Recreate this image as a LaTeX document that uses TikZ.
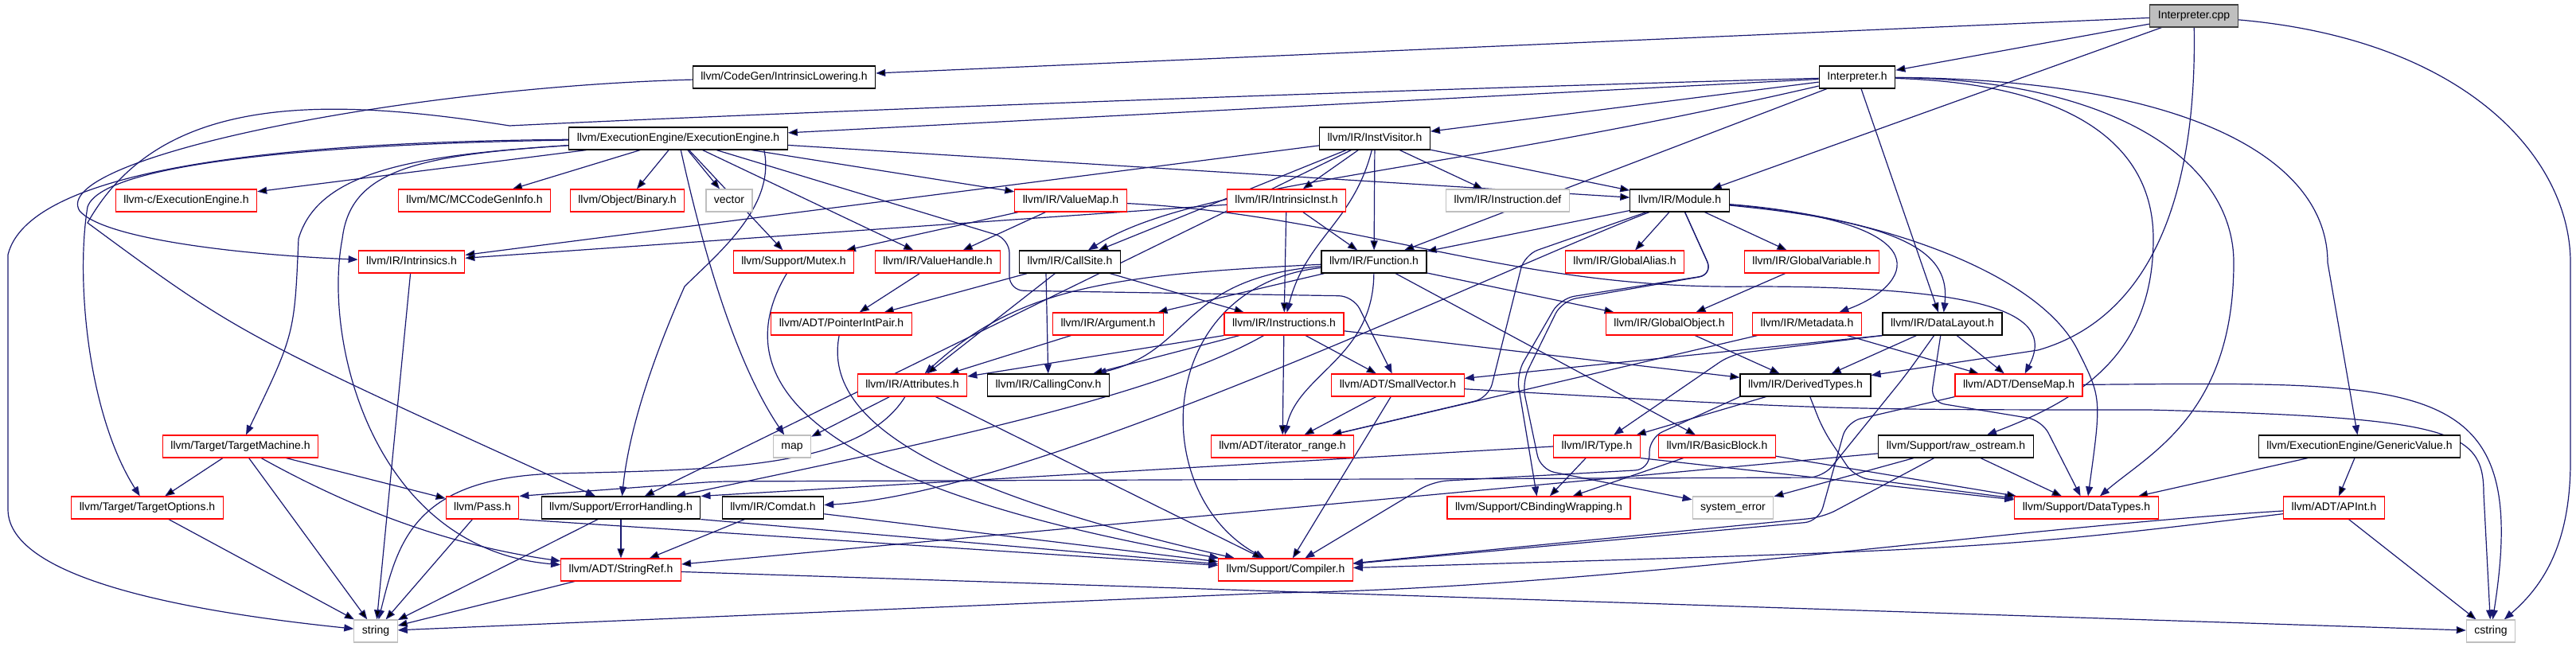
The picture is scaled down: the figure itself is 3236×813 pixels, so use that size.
\documentclass[tikz,border=0pt]{standalone}
\usepackage{fontspec}
\setmainfont{Liberation Sans}
\usepackage{tikz}
\usetikzlibrary{arrows.meta}

\definecolor{edgeblue}{RGB}{25,25,112}
\definecolor{partred}{RGB}{255,0,0}
\definecolor{sysgray}{RGB}{191,191,191}

\pgfdeclarelayer{background}
\pgfsetlayers{background,main}

\tikzset{
    hdr/.style={draw=black, fill=white, line width=1.2pt, minimum height=28pt,
        inner xsep=10pt, inner ysep=0pt, text height=10.5pt, text depth=3pt,
        font=\fontsize{14}{16}\selectfont},
    trunc/.style={hdr, draw=partred},
    sys/.style={hdr, draw=sysgray},
    root/.style={hdr, draw=black!75, fill=sysgray},
    dep/.style={draw=edgeblue, line width=1.2pt, -{Triangle[length=12pt,width=9pt]}},
    routed/.style={dep, rounded corners=18pt},
}

\begin{document}
\begin{tikzpicture}[x=1pt,y=-1pt]
    \useasboundingbox (0,0) rectangle (3236,813);

    % Source file
    \node[root] (cpp) at (2756,20) {Interpreter.cpp};

    % First two levels
    \node[hdr] (il) at (985,97) {llvm/CodeGen/IntrinsicLowering.h};
    \node[hdr] (ih) at (2333,97) {Interpreter.h};
    \node[hdr] (ee) at (852,174) {llvm/ExecutionEngine/ExecutionEngine.h};
    \node[hdr] (iv) at (1727,174) {llvm/IR/InstVisitor.h};

    % Row 3
    \node[trunc] (cee) at (234,252) {llvm-c/ExecutionEngine.h};
    \node[trunc] (mcg) at (596,252) {llvm/MC/MCCodeGenInfo.h};
    \node[trunc] (bin) at (788,252) {llvm/Object/Binary.h};
    \node[sys] (vec) at (916,252) {vector};
    \node[trunc] (vmap) at (1345,252) {llvm/IR/ValueMap.h};
    \node[trunc] (iinst) at (1616,252) {llvm/IR/IntrinsicInst.h};
    \node[sys] (idef) at (1894,252) {llvm/IR/Instruction.def};
    \node[hdr] (mod) at (2110,252) {llvm/IR/Module.h};

    % Row 4
    \node[trunc] (intr) at (517,329) {llvm/IR/Intrinsics.h};
    \node[trunc] (mtx) at (997,329) {llvm/Support/Mutex.h};
    \node[trunc] (vh) at (1178,329) {llvm/IR/ValueHandle.h};
    \node[hdr] (cs) at (1344,329) {llvm/IR/CallSite.h};
    \node[hdr] (fn) at (1726,329) {llvm/IR/Function.h};
    \node[trunc] (ga) at (2041,329) {llvm/IR/GlobalAlias.h};
    \node[trunc] (gv) at (2276,329) {llvm/IR/GlobalVariable.h};

    % Row 5
    \node[trunc] (pip) at (1057,407) {llvm/ADT/PointerIntPair.h};
    \node[trunc] (arg) at (1392,407) {llvm/IR/Argument.h};
    \node[trunc] (insts) at (1613,407) {llvm/IR/Instructions.h};
    \node[trunc] (go) at (2097,407) {llvm/IR/GlobalObject.h};
    \node[trunc] (md) at (2270,407) {llvm/IR/Metadata.h};
    \node[hdr] (dl) at (2440,407) {llvm/IR/DataLayout.h};

    % Row 6
    \node[trunc] (attr) at (1146,484) {llvm/IR/Attributes.h};
    \node[hdr] (cc) at (1317,484) {llvm/IR/CallingConv.h};
    \node[trunc] (sv) at (1756,484) {llvm/ADT/SmallVector.h};
    \node[hdr] (dt) at (2268,484) {llvm/IR/DerivedTypes.h};
    \node[trunc] (dm) at (2536,484) {llvm/ADT/DenseMap.h};

    % Row 7
    \node[trunc] (tm) at (302,561) {llvm/Target/TargetMachine.h};
    \node[sys] (map) at (995,561) {map};
    \node[trunc] (itr) at (1611,561) {llvm/ADT/iterator\_range.h};
    \node[trunc] (ty) at (2006,561) {llvm/IR/Type.h};
    \node[trunc] (bb) at (2157,561) {llvm/IR/BasicBlock.h};
    \node[hdr] (ros) at (2457,561) {llvm/Support/raw\_ostream.h};
    \node[hdr] (gval) at (2964,561) {llvm/ExecutionEngine/GenericValue.h};

    % Row 8
    \node[trunc] (topt) at (185,638) {llvm/Target/TargetOptions.h};
    \node[trunc] (pass) at (606,638) {llvm/Pass.h};
    \node[hdr] (eh) at (780,638) {llvm/Support/ErrorHandling.h};
    \node[hdr] (cmd) at (971,638) {llvm/IR/Comdat.h};
    \node[trunc] (cbw) at (1933,638) {llvm/Support/CBindingWrapping.h};
    \node[sys] (syse) at (2177,638) {system\_error};
    \node[trunc] (dtyp) at (2621,638) {llvm/Support/DataTypes.h};
    \node[trunc] (apint) at (2932,638) {llvm/ADT/APInt.h};

    % Bottom rows
    \node[trunc] (sref) at (780,716) {llvm/ADT/StringRef.h};
    \node[trunc] (comp) at (1615,716) {llvm/Support/Compiler.h};
    \node[sys] (str) at (472,793) {string};
    \node[sys] (cstr) at (3129,793) {cstring};

    \begin{pgfonlayer}{background}
    % Interpreter.cpp
    \draw[dep] (cpp) edge (ih) edge (il) edge (mod);
    \draw[dep] (cpp) .. controls (2760,250) and (2700,400) .. (2560,440) -- (dt);
    \draw[dep] (cpp) .. controls (3100,50) and (3229,200) .. (3229,330) -- (3229,580) .. controls (3229,690) and (3190,740) .. (cstr);

    % IntrinsicLowering.h
    \draw[dep] (il) .. controls (500,110) and (60,200) .. (100,265) .. controls (130,300) and (300,320) .. (intr);

    % Interpreter.h
    \draw[dep] (ih) edge (ee) edge (iv) edge (fn) edge (dl);
    \draw[dep] (ih) .. controls (1800,220) and (1500,230) .. (cs);
    \draw[dep] (ih) .. controls (2600,105) and (2705,180) .. (2705,300) .. controls (2705,440) and (2620,500) .. (ros);
    \draw[dep] (ih) .. controls (2650,100) and (2806,200) .. (2806,330) .. controls (2806,520) and (2700,570) .. (dtyp);
    \draw[dep] (ih) .. controls (2750,100) and (2924,200) .. (2924,330) -- (gval);
    \draw[dep] (ih) .. controls (1500,120) and (800,150) .. (640,158) .. controls (400,120) and (200,120) .. (110,280) .. controls (300,420) .. (eh);

    % ExecutionEngine.h
    \draw[dep] (ee) edge (cee) edge (mcg) edge (bin) edge (vec) edge (vmap) edge (mtx) edge (vh) edge (mod);
    \draw[routed] (ee) -- (1268,300) -- (1268,365) -- (1700,372) -- (sv);
    \draw[dep] (ee) .. controls (880,300) and (920,450) .. (map);
    \draw[dep] ([xshift=-30pt]ee.south east) .. controls (975,260) and (900,320) .. (860,360) .. controls (820,450) and (790,540) .. (eh);
    \draw[dep] (ee) .. controls (520,195) and (400,215) .. (375,300) .. controls (370,420) .. (tm);
    \draw[dep] (ee) .. controls (520,195) and (440,215) .. (430,300) .. controls (405,430) and (470,690) .. (sref);
    \draw[dep] (ee) .. controls (450,180) and (130,200) .. (110,260) .. controls (95,350) and (110,520) .. (topt);
    \draw[dep] (ee) .. controls (420,178) and (40,200) .. (10,320) -- (10,640) .. controls (10,730) and (250,770) .. (str);

    % InstVisitor.h
    \draw[dep] (iv) edge (iinst) edge (idef) edge (mod) edge (fn) edge (cs) edge (intr) edge (eh);
    \draw[dep] (iv) .. controls (1700,280) and (1640,300) .. (insts);

    % IntrinsicInst.h and ValueMap.h
    \draw[dep] (iinst) edge (intr) edge (fn) edge (insts);
    \draw[dep] (vmap) edge (vh) edge (mtx);
    \draw[dep] (vmap) .. controls (1700,270) and (1900,365) .. (2200,360) .. controls (2520,360) and (2580,400) .. (dm);

    % Module.h
    \draw[dep] (mod) edge (fn) edge (ga) edge (gv);
    \draw[routed] (mod) -- (1915,320) -- (1870,500) -- (itr);
    \draw[dep] (mod) .. controls (1880,340) and (1300,620) .. (cmd);
    \draw[dep] (mod) .. controls (2400,280) and (2450,320) .. (dl);
    \draw[dep] (mod) .. controls (2450,280) and (2400,360) .. (md);
    \draw[routed] (mod) -- (2152,345) -- (1960,375) -- (1905,470) -- (cbw);
    \draw[routed] (mod) -- (2152,345) -- (1962,378) -- (1912,480) -- (1935,590) -- (syse);
    \draw[dep] (mod) .. controls (2350,270) and (2560,340) .. (2610,440) .. controls (2640,500) .. (dtyp);

    % Function.h
    \draw[dep] (fn) edge (arg) edge (go) edge (bb);
    \draw[dep] (fn) .. controls (1725,450) and (1630,470) .. (itr);
    \draw[dep] (fn) .. controls (1400,345) and (1280,360) .. (attr);
    \draw[dep] (fn) .. controls (1480,350) and (1500,440) .. (cc);
    \draw[dep] (fn) .. controls (1450,360) and (1440,620) .. (comp);

    % Globals and metadata
    \draw[dep] (gv) edge (go);
    \draw[dep] (go) edge (dt);
    \draw[dep] (md) edge (dm) edge (itr);

    % CallSite.h, ValueHandle.h, Argument.h
    \draw[dep] (cs) edge (pip) edge (attr) edge (insts);
    \draw[dep] ([xshift=-30pt]cs.south) -- (cc);
    \draw[dep] (vh) edge (pip);
    \draw[dep] (arg) edge (attr);

    % Instructions.h
    \draw[dep] (insts) edge (itr) edge (sv) edge (cc) edge (dt);
    \draw[dep] (insts.south west) -- (attr);
    \draw[dep] (insts) .. controls (1450,500) and (1150,560) .. (eh);

    % PointerIntPair.h, Mutex.h, Attributes.h
    \draw[dep] (pip) .. controls (1035,520) and (1150,610) .. (comp);
    \draw[dep] (mtx) .. controls (925,450) and (950,600) .. (comp);
    \draw[dep] (attr) edge (map) edge (comp);
    \draw[dep] (attr) .. controls (1080,590) and (900,590) .. (700,595) .. controls (520,600) and (500,680) .. (str);

    % SmallVector.h, DerivedTypes.h, DenseMap.h
    \draw[dep] (sv) edge (itr) edge (comp);
    \draw[dep] (sv) .. controls (2300,515) .. (2700,515) .. controls (3080,525) and (3120,540) .. (3120,620) -- (cstr);
    \draw[dep] (dt) edge (ty);
    \draw[routed] (dt.south west) -- (2072,550) -- (2072,590) -- (1800,605) -- (comp);
    \draw[routed] (dt) -- (2290,540) -- (2330,600) -- (dtyp);
    \draw[routed] (dm.south west) -- (2320,530) -- (2285,655) -- (comp);
    \draw[dep] (dm) .. controls (3050,480) and (3180,470) .. (cstr);

    % DataLayout.h
    \draw[dep] (dl) edge (dt) edge (dm);
    \draw[dep] (dl.south west) -- (sv);
    \draw[routed] (dl.south west) -- (2175,445) -- (ty);
    \draw[routed] (dl) -- (2425,505) -- (2565,528) -- (dtyp);
    \draw[routed] (dl) -- (2395,470) -- (2290,600) -- (900,605) -- (pass.north east);

    % Target headers
    \draw[dep] (tm) edge (topt) edge (str) edge (pass);
    \draw[dep] (tm) .. controls (480,660) and (600,690) .. (sref);
    \draw[dep] (topt) edge (str);
    \draw[dep] (intr) edge (str);

    % Support headers
    \draw[dep] (pass) edge (str);
    \draw[dep] (pass.south east) -- (comp);
    \draw[dep] (eh) edge (sref) edge (str);
    \draw[dep] (eh.south east) -- (comp);
    \draw[dep] (cmd) edge (sref) edge (comp);
    \draw[dep] (sref) edge (str) edge (cstr);
    \draw[dep] (ros) edge (sref) edge (syse) edge (dtyp);
    \draw[routed] (ros) -- (2290,650) -- (comp);

    % Type.h, BasicBlock.h
    \draw[dep] (ty) edge (cbw);
    \draw[dep] (ty.west) -- (eh.north east);
    \draw[dep] (ty.south east) -- (dtyp);
    \draw[dep] (bb) edge (cbw) edge (dtyp);

    % GenericValue.h, APInt.h
    \draw[dep] (gval) edge (dtyp) edge (apint);
    \draw[dep] (apint) edge (cstr);
    \draw[dep] (apint) .. controls (2500,690) .. (comp);
    \draw[dep] (apint) .. controls (2500,665) and (2000,740) .. (1600,745) -- (str);
    \end{pgfonlayer}

\end{tikzpicture}
\end{document}
